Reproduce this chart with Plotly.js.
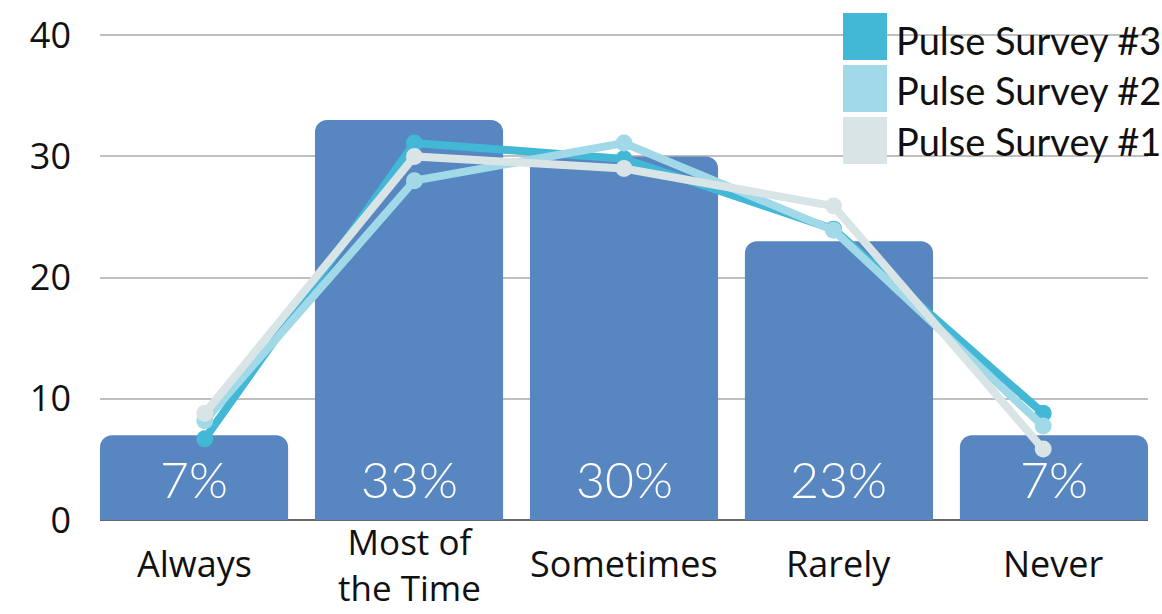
<!DOCTYPE html>
<html>
<head>
<meta charset="utf-8">
<script src="https://cdn.plot.ly/plotly-3.0.1.min.js"></script>
<style>
  html, body { margin: 0; padding: 0; background: #ffffff; }
  #chart { width: 1162px; height: 614px; }
</style>
</head>
<body>
<div id="chart"></div>
<script>
// Response categories and tick labels
const categories = ['Always', 'Most of the Time', 'Sometimes', 'Rarely', 'Never'];
const tickLabels = ['Always', 'Most of<br>the Time', 'Sometimes', 'Rarely', 'Never'];

// Current share of responses (bars, in percent)
const barValues = [7, 33, 30, 23, 7];

// Earlier pulse survey results (lines)
const survey3 = [6.7, 31.1, 29.8, 24.0, 8.8];
const survey2 = [8.2, 28.0, 31.1, 23.9, 7.75];
const survey1 = [8.8, 30.0, 29.0, 25.9, 5.85];

const seriesNames = ['Pulse Survey #3', 'Pulse Survey #2', 'Pulse Survey #1'];
const seriesColors = ['#42B8D6', '#A2D9E8', '#D9E4E6'];

const LABEL_FONT = '"Open Sans", "Noto Sans", sans-serif';
const LEGEND_FONT = 'Lato, "Open Sans", sans-serif';
const BAR_COLOR = '#5886C1';

// Plot area geometry (pixels) used to place the hand-drawn legend and labels
const W = 1162, H = 614;
const Y_MAX = 40.1;
const M = { l: 100, r: 14, t: 34, b: 94 };
const plotW = W - M.l - M.r, plotH = H - M.t - M.b;
const px = x => (x - M.l) / plotW;
const py = y => (H - M.b - y) / plotH;

const traces = [
  {
    type: 'bar',
    x: categories,
    y: barValues,
    marker: { color: BAR_COLOR, cornerradius: 12 },
    hoverinfo: 'x+y',
    showlegend: false
  }
];

const seriesData = [survey3, survey2, survey1];
seriesData.forEach((vals, i) => {
  traces.push({
    type: 'scatter',
    mode: 'lines+markers',
    x: categories,
    y: vals,
    xaxis: 'x2',
    name: seriesNames[i],
    line: { color: seriesColors[i], width: 8 },
    marker: { color: seriesColors[i], size: 17 },
    cliponaxis: false,
    showlegend: false
  });
});

const annotations = [];

// Percentage labels inside the bars
categories.forEach((c, i) => {
  annotations.push({
    xref: 'x', yref: 'y', x: c, y: 0,
    yanchor: 'middle', xanchor: 'center', yshift: 41,
    text: barValues[i] + '%', showarrow: false,
    font: { family: 'Lato, sans-serif', size: 50, weight: 300, color: '#ffffff' }
  });
});

// Category labels under the axis: single lines centred, wrapped ones fill the margin
categories.forEach((c, i) => {
  const wrapped = tickLabels[i].indexOf('<br>') >= 0;
  annotations.push({
    xref: 'x', yref: 'paper', x: c,
    y: wrapped ? py(613) : py(563),
    yanchor: wrapped ? 'bottom' : 'middle', xanchor: 'center',
    text: tickLabels[i], showarrow: false,
    font: { family: LABEL_FONT, size: wrapped ? 35 : 36, color: '#111111' }
  });
});

// Legend: coloured swatches with labels
const shapes = [];
const legendRows = [
  { top: 13, bottom: 60, textY: 40 },
  { top: 65, bottom: 112, textY: 90 },
  { top: 117, bottom: 164, textY: 141 }
];
legendRows.forEach((row, i) => {
  shapes.push({
    type: 'rect', xref: 'paper', yref: 'paper',
    x0: px(843), x1: px(887), y0: py(row.bottom), y1: py(row.top),
    fillcolor: seriesColors[i], line: { width: 0 }, layer: 'above'
  });
  annotations.push({
    xref: 'paper', yref: 'paper', x: px(1028), y: py(row.textY),
    xanchor: 'center', yanchor: 'middle', showarrow: false,
    text: seriesNames[i],
    font: { family: LEGEND_FONT, size: 38, color: '#111111' }
  });
});

const layout = {
  width: W, height: H,
  margin: M,
  paper_bgcolor: '#ffffff',
  plot_bgcolor: '#ffffff',
  font: { family: LABEL_FONT, color: '#111111' },
  bargap: 0.125,
  xaxis: {
    type: 'category',
    range: [-0.4375, 4.4375],
    showticklabels: false,
    showgrid: false,
    zeroline: false,
    showline: false,
    fixedrange: true
  },
  xaxis2: {
    type: 'category',
    overlaying: 'x',
    range: [-0.5, 4.5],
    visible: false,
    fixedrange: true
  },
  yaxis: {
    range: [0, Y_MAX],
    tickvals: [0, 10, 20, 30, 40],
    showgrid: true,
    gridcolor: '#BFBFBF',
    gridwidth: 2,
    zeroline: true,
    zerolinecolor: '#666666',
    zerolinewidth: 2,
    ticks: '',
    ticklabelstandoff: 28,
    tickfont: { family: LABEL_FONT, size: 36, color: '#111111' },
    fixedrange: true
  },
  shapes: shapes,
  annotations: annotations
};

Plotly.newPlot('chart', traces, layout, { displayModeBar: false, staticPlot: true });
</script>
</body>
</html>
